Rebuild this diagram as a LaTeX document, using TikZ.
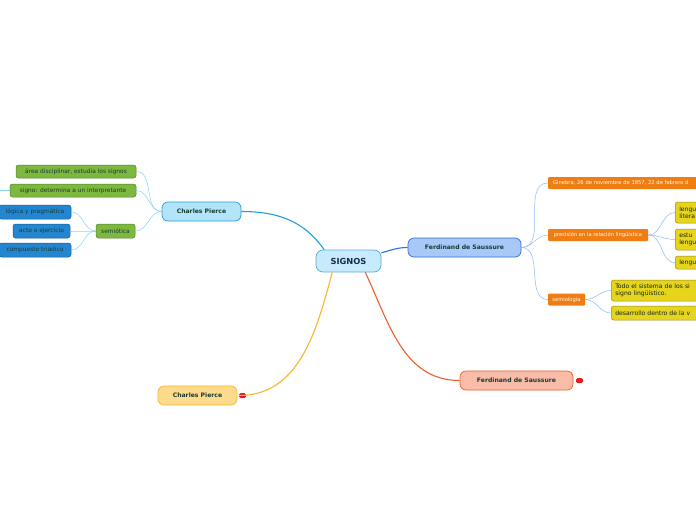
\documentclass[tikz,border=0pt]{standalone}
\usepackage{fontspec}
\setmainfont{DejaVu Sans}
\usepackage{xcolor}
\usetikzlibrary{positioning}
\definecolor{signosfill}{HTML}{C8EBFB}
\definecolor{signosline}{HTML}{5AAAD8}
\definecolor{signostext}{HTML}{1A2A50}
\definecolor{topictext}{HTML}{173C35}
\definecolor{piercefill}{HTML}{B3E5FA}
\definecolor{pierceline}{HTML}{1B9FE0}
\definecolor{ferdfill}{HTML}{A8C9F8}
\definecolor{ferdline}{HTML}{2D6ED8}
\definecolor{pyfill}{HTML}{FEDB8C}
\definecolor{pyline}{HTML}{F6B72A}
\definecolor{frfill}{HTML}{F9BCA8}
\definecolor{frline}{HTML}{EE5F2A}
\definecolor{greenfill}{HTML}{7DB83F}
\definecolor{greenline}{HTML}{55802C}
\definecolor{bluefill}{HTML}{2486D0}
\definecolor{blueline}{HTML}{145C9A}
\definecolor{orangefill}{HTML}{F07D12}
\definecolor{yellowfill}{HTML}{E6D51C}
\definecolor{yellowline}{HTML}{9B8B1A}
\definecolor{lightcyan}{HTML}{86D3F5}
\definecolor{lightblue}{HTML}{8EB9F2}
\definecolor{dotred}{HTML}{F01818}

\begin{document}
\begin{tikzpicture}[
    x=1pt, y=-1pt,
    topic/.style={rectangle, rounded corners=6pt, draw, line width=0.7pt, minimum height=19pt, inner xsep=0pt, text=topictext, font=\bfseries\fontsize{6.1}{7}\selectfont},
    leaf/.style={rectangle, rounded corners=2.5pt, draw, line width=0.5pt, minimum height=13pt, inner xsep=3pt, inner ysep=0pt, text=topictext, font=\fontsize{5.9}{7}\selectfont},
    tag/.style={rectangle, rounded corners=1pt, fill=orangefill, text=white, minimum height=12pt, inner xsep=3pt, inner ysep=0pt, font=\fontsize{5.2}{6}\selectfont},
    note/.style={rectangle, rounded corners=2.5pt, draw=yellowline, fill=yellowfill, line width=0.5pt, anchor=west, inner xsep=4pt, inner ysep=0pt, text width=90pt, align=left, text=topictext!60!black, font=\fontsize{6.1}{7.3}\selectfont},
    reddot/.style={rectangle, rounded corners=1.5pt, fill=dotred, minimum width=7pt, minimum height=5pt, inner sep=0pt},
    link/.style={line width=1.1pt},
    twig/.style={line width=0.5pt}
]
    \fill[white] (0,0) rectangle (696,520);
    \useasboundingbox (0,0) rectangle (696,520);
    \clip (0,0) rectangle (696,520);

    % central topic
    \node[topic, fill=signosfill, draw=signosline, text=signostext, minimum width=65pt, minimum height=22pt, rounded corners=7pt, font=\bfseries\fontsize{8.3}{9}\selectfont] (signos) at (348.5,261) {SIGNOS};

    % main branches
    \node[topic, fill=piercefill, draw=pierceline, minimum width=79pt] (pierce) at (201.5,211.5) {Charles Pierce};
    \node[topic, fill=ferdfill, draw=ferdline, minimum width=113pt] (ferd) at (464.5,247.5) {Ferdinand de Saussure};
    \node[topic, fill=pyfill, draw=pyline, minimum width=79pt] (pierceb) at (197.5,395.5) {Charles Pierce};
    \node[topic, fill=frfill, draw=frline, minimum width=113pt] (ferdb) at (516.5,380.5) {Ferdinand de Saussure};
    \node[reddot] (dota) at (242.5,395.5) {};
    \node[reddot] (dotb) at (579.5,380.5) {};

    % Charles Pierce
    \node[leaf, fill=greenfill, draw=greenline, minimum width=120pt] (area) at (76,171.5) {área disciplinar, estudia los signos};
    \node[leaf, fill=greenfill, draw=greenline, minimum width=126pt] (signo) at (73,190.5) {signo: determina a un interpretante};
    \node[leaf, fill=greenfill, draw=greenline, minimum width=39pt, minimum height=14pt] (semiotica) at (115.5,231) {semiótica};
    \node[leaf, fill=bluefill, draw=blueline, minimum width=72pt, minimum height=14pt] (logica) at (35,212) {lógica y pragmática};
    \node[leaf, fill=bluefill, draw=blueline, minimum width=57pt, minimum height=14pt] (acto) at (41.5,231) {acto o ejercicio};
    \node[leaf, fill=bluefill, draw=blueline, minimum width=72pt, minimum height=14pt] (triadico) at (35,250) {compuesto triádico};
    \coordinate (signoend) at (0,190.5);

    % Ferdinand de Saussure
    \node[tag, anchor=west, minimum width=160pt, align=left, text width=150pt] (ginebra) at (548,183) {Ginebra, 26 de noviembre de 1857, 22 de febrero d};
    \node[tag, minimum width=100pt] (precision) at (598,235) {precisión en la relación lingüística};
    \node[tag, minimum width=37pt] (semiologia) at (566.5,299.5) {semiología};
    \node[note, minimum height=21pt] (lengua) at (675,212.5) {lengu\\litera};
    \node[note, minimum height=21pt] (estudio) at (675,239.5) {estu\\lengu};
    \node[note, minimum height=13pt] (lenguaje) at (675,262.5) {lengu};
    \node[note, minimum height=21pt] (sistema) at (611,290.5) {Todo el sistema de los si\\signo lingüístico.};
    \node[note, minimum height=14pt] (desarrollo) at (611,313) {desarrollo dentro de la v};

    % branches from the centre
    \draw[link, color=pierceline] (signos.155) to[out=125,in=0] (pierce.east);
    \draw[link, color=ferdline] (signos.14) to[out=15,in=180] (ferd.west);
    \draw[link, color=pyline] (signos.215) to[out=-105,in=0] (dota.west);
    \draw[link, color=frline] (signos.326) to[out=-65,in=180] (ferdb.west);

    % twigs
    \foreach \leafname in {area,signo,semiotica}
        \draw[twig, color=lightcyan] (pierce.west) to[out=180,in=0] (\leafname.east);
    \foreach \leafname in {logica,acto,triadico}
        \draw[twig, color=lightcyan] (semiotica.west) to[out=180,in=0] (\leafname.east);
    \draw[twig, color=lightcyan] (signo.west) -- (signoend);
    \foreach \leafname in {ginebra,precision,semiologia}
        \draw[twig, color=lightblue] (ferd.east) to[out=0,in=180] (\leafname.west);
    \foreach \leafname in {lengua,estudio,lenguaje}
        \draw[twig, color=lightblue] (precision.east) to[out=0,in=180] (\leafname.west);
    \foreach \leafname in {sistema,desarrollo}
        \draw[twig, color=lightblue] (semiologia.east) to[out=0,in=180] (\leafname.west);
\end{tikzpicture}
\end{document}
